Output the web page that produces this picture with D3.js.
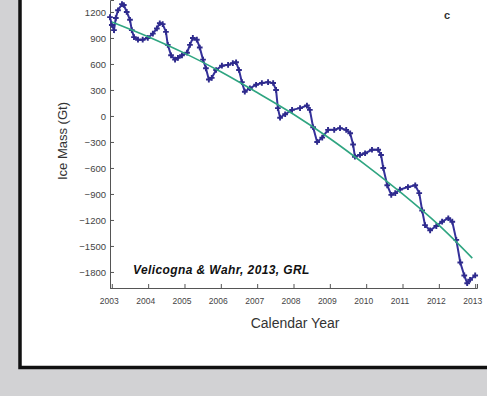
<!DOCTYPE html>
<html>
<head>
<meta charset="utf-8">
<script src="https://cdn.jsdelivr.net/npm/d3@7"></script>
<style>
  body { margin: 0; background: #d2d2d4; }
  svg { display: block; }
  text { font-family: "Liberation Sans", Arial, sans-serif; fill: #333; }
</style>
</head>
<body>
<svg id="chart"></svg>
<script>
// Greenland ice mass (Gt)
const massYears = [
  2002.95, 2003.00, 2003.06, 2003.11, 2003.17, 2003.28, 2003.33, 2003.41, 2003.50, 2003.55,
  2003.61, 2003.72, 2003.85, 2003.99, 2004.13, 2004.24, 2004.32, 2004.40, 2004.49, 2004.54,
  2004.63, 2004.74, 2004.82, 2004.93, 2005.07, 2005.15, 2005.23, 2005.34, 2005.42, 2005.51,
  2005.59, 2005.67, 2005.75, 2005.87, 2006.03, 2006.20, 2006.33, 2006.42, 2006.50, 2006.58,
  2006.66, 2006.80, 2006.97, 2007.13, 2007.30, 2007.44, 2007.52, 2007.57, 2007.63, 2007.77,
  2007.96, 2008.18, 2008.37, 2008.45, 2008.54, 2008.65, 2008.79, 2008.95, 2009.12, 2009.28,
  2009.45, 2009.56, 2009.64, 2009.69, 2009.83, 2009.97, 2010.16, 2010.33, 2010.41, 2010.47,
  2010.58, 2010.69, 2010.80, 2010.93, 2011.15, 2011.35, 2011.46, 2011.54, 2011.62, 2011.76,
  2011.93, 2012.09, 2012.26, 2012.37, 2012.48, 2012.59, 2012.70, 2012.78, 2012.86, 2013.00
];
const massValues = [
  1140, 1050, 990, 1130, 1220, 1290, 1280, 1200, 1110, 990,
  910, 880, 880, 900, 950, 1010, 1070, 1060, 970, 820,
  700, 650, 670, 700, 730, 820, 900, 880, 790, 650,
  550, 420, 440, 530, 580, 590, 610, 620, 530, 390,
  280, 320, 360, 380, 390, 380, 300, 90, -20, 20,
  70, 90, 120, 70, -130, -300, -250, -160, -160, -140,
  -160, -200, -330, -470, -450, -430, -390, -390, -450, -600,
  -800, -910, -890, -850, -820, -800, -890, -1090, -1260, -1320,
  -1270, -1220, -1180, -1220, -1430, -1690, -1840, -1930, -1890, -1840
];

// fitted trend (green curve)
const trendYears = [2003, 2004, 2005, 2006, 2007, 2008, 2009, 2010, 2011, 2012, 2012.92];
const trendValues = [1085, 915, 725, 510, 270, 20, -260, -570, -900, -1260, -1640];

const yTicks = [1200, 900, 600, 300, 0, -300, -600, -900, -1200, -1500, -1800];
const xTicks = [2003, 2004, 2005, 2006, 2007, 2008, 2009, 2010, 2011, 2012, 2013];

const W = 487, H = 396;

const svg = d3.select("#chart").attr("width", W).attr("height", H);

// white panel with heavy black frame
svg.append("rect")
  .attr("x", 20).attr("y", -10)
  .attr("width", 520).attr("height", 377.5)
  .attr("fill", "#fff")
  .attr("stroke", "#111")
  .attr("stroke-width", 3.5);

const x = d3.scaleLinear().domain([2002.95, 2013.05]).range([110, 477]);
const y = d3.scaleLinear().domain([-1985, 1338]).range([288, 0]);

const yAxis = d3.axisLeft(y).tickValues(yTicks).tickFormat(d3.format("d")).tickSize(-4).tickPadding(4);
const xAxis = d3.axisBottom(x).tickValues(xTicks).tickFormat(d3.format("d")).tickSize(-4).tickPadding(10);

const gy = svg.append("g").attr("transform", "translate(110,0)").call(yAxis);
gy.selectAll("text").style("font-size", "9.5px").style("fill", "#444");

const gx = svg.append("g").attr("transform", "translate(0,288)").call(xAxis);
gx.selectAll("text").style("font-size", "8.5px").style("fill", "#444").attr("dx", "-3");

svg.selectAll(".domain, .tick line").attr("stroke", "#555");

// data series
const massData = massYears.map((d, i) => ({ t: d, v: massValues[i] }));
const trendData = trendYears.map((d, i) => ({ t: d, v: trendValues[i] }));

const line = d3.line().x(d => x(d.t)).y(d => y(d.v));

svg.append("path")
  .datum(massData)
  .attr("fill", "none")
  .attr("stroke", "#34309a")
  .attr("stroke-width", 2)
  .attr("d", line);

svg.selectAll(".mark")
  .data(massData)
  .enter()
  .append("path")
  .attr("class", "mark")
  .attr("transform", d => "translate(" + x(d.t) + "," + y(d.v) + ")")
  .attr("d", d3.symbol().type(d3.symbolCross).size(18))
  .attr("fill", "#2e2a8c");

svg.append("path")
  .datum(trendData)
  .attr("fill", "none")
  .attr("stroke", "#2fa581")
  .attr("stroke-width", 1.6)
  .attr("d", line.curve(d3.curveCatmullRom));

// labels
svg.append("text")
  .attr("transform", "translate(67,141) rotate(-90)")
  .attr("text-anchor", "middle")
  .style("font-size", "13px")
  .text("Ice Mass (Gt)");

svg.append("text")
  .attr("x", 295).attr("y", 328)
  .attr("text-anchor", "middle")
  .style("font-size", "14px")
  .text("Calendar Year");

svg.append("text")
  .attr("x", 447).attr("y", 19)
  .attr("text-anchor", "middle")
  .style("font-size", "11px")
  .style("font-weight", "bold")
  .text("c");

svg.append("text")
  .attr("x", 133).attr("y", 274)
  .style("font-size", "12px")
  .style("letter-spacing", "0.4px")
  .style("font-weight", "bold")
  .style("font-style", "italic")
  .style("fill", "#111")
  .text("Velicogna & Wahr, 2013, GRL");
</script>
</body>
</html>
